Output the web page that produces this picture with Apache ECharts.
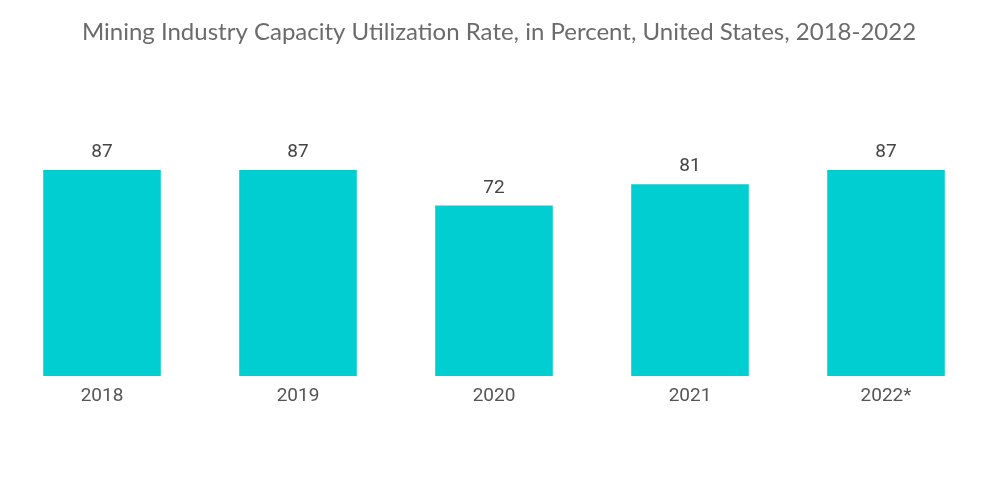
<!DOCTYPE html>
<html><head><meta charset="utf-8">
<script src="https://cdn.jsdelivr.net/npm/echarts@6/dist/echarts.min.js"></script>
<style>html,body{margin:0;padding:0;background:#fff}#c{width:1000px;height:504px}</style>
</head><body><div id="c"></div>
<script>
const categories = ['2018', '2019', '2020', '2021', '2022*'];
const values = [87, 87, 72, 81, 87];
const titleText = 'Mining Industry Capacity Utilization Rate, in Percent, United States, 2018-2022';

const chart = echarts.init(document.getElementById('c'));
chart.setOption({
  animation: false,
  title: {
    text: titleText, left: 494, top: 15, textAlign: 'center',
    textStyle: { fontFamily: 'Lato', fontWeight: 'normal', fontSize: 24, color: '#6b6b6b' }
  },
  grid: { left: 4, right: 16, top: 170, bottom: 128 },
  xAxis: {
    type: 'category', data: categories,
    axisLine: { show: false }, axisTick: { show: false },
    axisLabel: { fontFamily: 'Roboto', fontSize: 19, color: '#555', margin: 11 }
  },
  yAxis: { type: 'value', min: 0, max: 87, show: false, splitLine: { show: false } },
  series: [{
    type: 'bar', data: values, barWidth: '60%',
    itemStyle: { color: '#00CED1' },
    label: { show: true, position: 'top', distance: 8, fontFamily: 'Roboto', fontSize: 19, color: '#444' }
  }]
});
</script></body></html>
